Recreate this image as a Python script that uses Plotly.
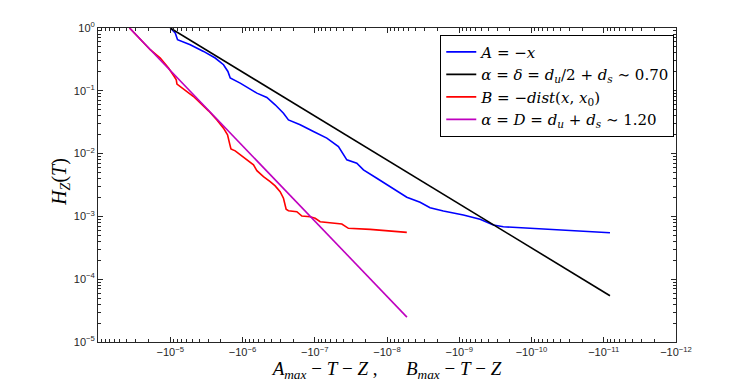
import numpy as np
import plotly.graph_objects as go

# values, stored as log10 of |x| and log10 of H_Z
a_logx = [-5.000, -5.069, -5.101, -5.277, -5.461, -5.622, -5.737, -5.798, -5.830, -5.968,
          -6.199, -6.337, -6.452, -6.567, -6.636, -6.798, -6.982, -7.167, -7.328, -7.389,
          -7.444, -7.582, -7.674, -7.859, -8.043, -8.274, -8.458, -8.596, -8.780, -9.057,
          -9.288, -9.472, -9.610, -9.979, -10.440, -11.086]
a_logy = [0.000, -0.080, -0.187, -0.266, -0.373, -0.478, -0.585, -0.692, -0.797, -0.877,
          -1.037, -1.107, -1.223, -1.356, -1.463, -1.542, -1.649, -1.754, -1.888, -1.994,
          -2.100, -2.153, -2.260, -2.392, -2.526, -2.695, -2.775, -2.861, -2.914, -2.978,
          -3.046, -3.137, -3.164, -3.190, -3.217, -3.260]

b_logx = [-4.437, -4.585, -4.723, -4.862, -4.976, -5.055, -5.083, -5.093, -5.138, -5.322,
          -5.530, -5.646, -5.737, -5.793, -5.820, -5.840, -5.899, -5.968, -6.037, -6.152,
          -6.199, -6.290, -6.383, -6.452, -6.521, -6.567, -6.604, -6.636, -6.752, -6.822,
          -6.936, -7.006, -7.075, -7.375, -7.466, -7.766, -8.274]
b_logy = [0.000, -0.187, -0.346, -0.478, -0.638, -0.772, -0.825, -0.893, -0.931, -1.091,
          -1.319, -1.463, -1.595, -1.702, -1.834, -1.925, -1.957, -2.021, -2.073, -2.180,
          -2.271, -2.367, -2.447, -2.515, -2.606, -2.711, -2.887, -2.909, -2.925, -2.994,
          -3.005, -3.030, -3.085, -3.121, -3.190, -3.206, -3.254]

# power-law reference lines (end points)
delta_x = [1e-5, 8.2e-12]
delta_y = [1.0, 5.46e-5]
dim_x = [3.66e-5, 5.3e-9]
dim_y = [1.0, 2.49e-5]

x_ticks = [1e-5, 1e-6, 1e-7, 1e-8, 1e-9, 1e-10, 1e-11, 1e-12]
x_labels = ["\u221210<sup>\u2212%d</sup>" % k for k in range(5, 13)]
y_ticks = [1e0, 1e-1, 1e-2, 1e-3, 1e-4, 1e-5]
y_labels = ["10<sup>0</sup>"] + ["10<sup>\u2212%d</sup>" % k for k in range(1, 6)]

# minor tick positions 2..9 in each decade
x_minor = [m * 10.0 ** e for e in range(-12, -4) for m in range(2, 10)]
y_minor = [m * 10.0 ** e for e in range(-5, 0) for m in range(2, 10)]

names = [
    "<i>A</i> = \u2212<i>x</i>",
    "<i>\u03b1</i> = <i>\u03b4</i> = <i>d</i><sub><i>u</i></sub>/2 + <i>d</i><sub><i>s</i></sub> \u223c 0.70",
    "<i>B</i> = \u2212<i>dist</i>(<i>x</i>, <i>x</i><sub>0</sub>)",
    "<i>\u03b1</i> = <i>D</i> = <i>d</i><sub><i>u</i></sub> + <i>d</i><sub><i>s</i></sub> \u223c 1.20",
]

fig = go.Figure()
fig.add_trace(go.Scatter(x=np.power(10.0, a_logx), y=np.power(10.0, a_logy), mode="lines",
                         name=names[0], line=dict(color="#0000ff", width=1.6)))
fig.add_trace(go.Scatter(x=delta_x, y=delta_y, mode="lines",
                         name=names[1], line=dict(color="#000000", width=1.6)))
fig.add_trace(go.Scatter(x=np.power(10.0, b_logx), y=np.power(10.0, b_logy), mode="lines",
                         name=names[2], line=dict(color="#ff0000", width=1.6)))
fig.add_trace(go.Scatter(x=dim_x, y=dim_y, mode="lines",
                         name=names[3], line=dict(color="#bf00bf", width=1.6)))

axis_common = dict(
    showgrid=False, zeroline=False, showline=True, linecolor="#262626", linewidth=1,
    mirror="ticks", ticks="inside", ticklen=5, tickwidth=1, tickcolor="#262626",
    automargin=False,
    tickfont=dict(family="Liberation Sans, Arial", size=11, color="#262626"),
)

# the page body adds an 8px offset, so the figure is 8px smaller than the window
fig.update_layout(
    width=739, height=377,
    margin=dict(l=90, r=71, t=20, b=43),
    paper_bgcolor="white", plot_bgcolor="white",
    font=dict(family="Liberation Serif, Times New Roman", size=16, color="black"),
    xaxis=dict(type="log", range=[-4, -12], tickvals=x_ticks, ticktext=x_labels,
               minor=dict(tickmode="array", tickvals=x_minor, ticks="inside", ticklen=3,
                          tickwidth=1, tickcolor="#262626", showgrid=False),
               title=dict(text="<i>A</i><sub><i>max</i></sub> \u2212 <i>T</i> \u2212 <i>Z</i> ,      "
                               "<i>B</i><sub><i>max</i></sub> \u2212 <i>T</i> \u2212 <i>Z</i>",
                          font=dict(size=19), standoff=0),
               **axis_common),
    yaxis=dict(type="log", range=[-5, 0], tickvals=y_ticks, ticktext=y_labels,
               minor=dict(tickmode="array", tickvals=y_minor, ticks="inside", ticklen=3,
                          tickwidth=1, tickcolor="#262626", showgrid=False),
               **axis_common),
    annotations=[dict(text="<i>H</i><sub><i>Z</i></sub>(<i>T</i>)", textangle=-90,
                      xref="paper", yref="paper", x=-0.064, y=0.51,
                      xanchor="center", yanchor="middle", showarrow=False,
                      font=dict(size=20))],
    legend=dict(x=0.997, y=0.979, xanchor="right", yanchor="top",
                bgcolor="white", bordercolor="black", borderwidth=1,
                font=dict(family="DejaVu Serif", size=15), itemwidth=30, tracegroupgap=0),
    showlegend=True,
)

fig.write_html("out.html")
